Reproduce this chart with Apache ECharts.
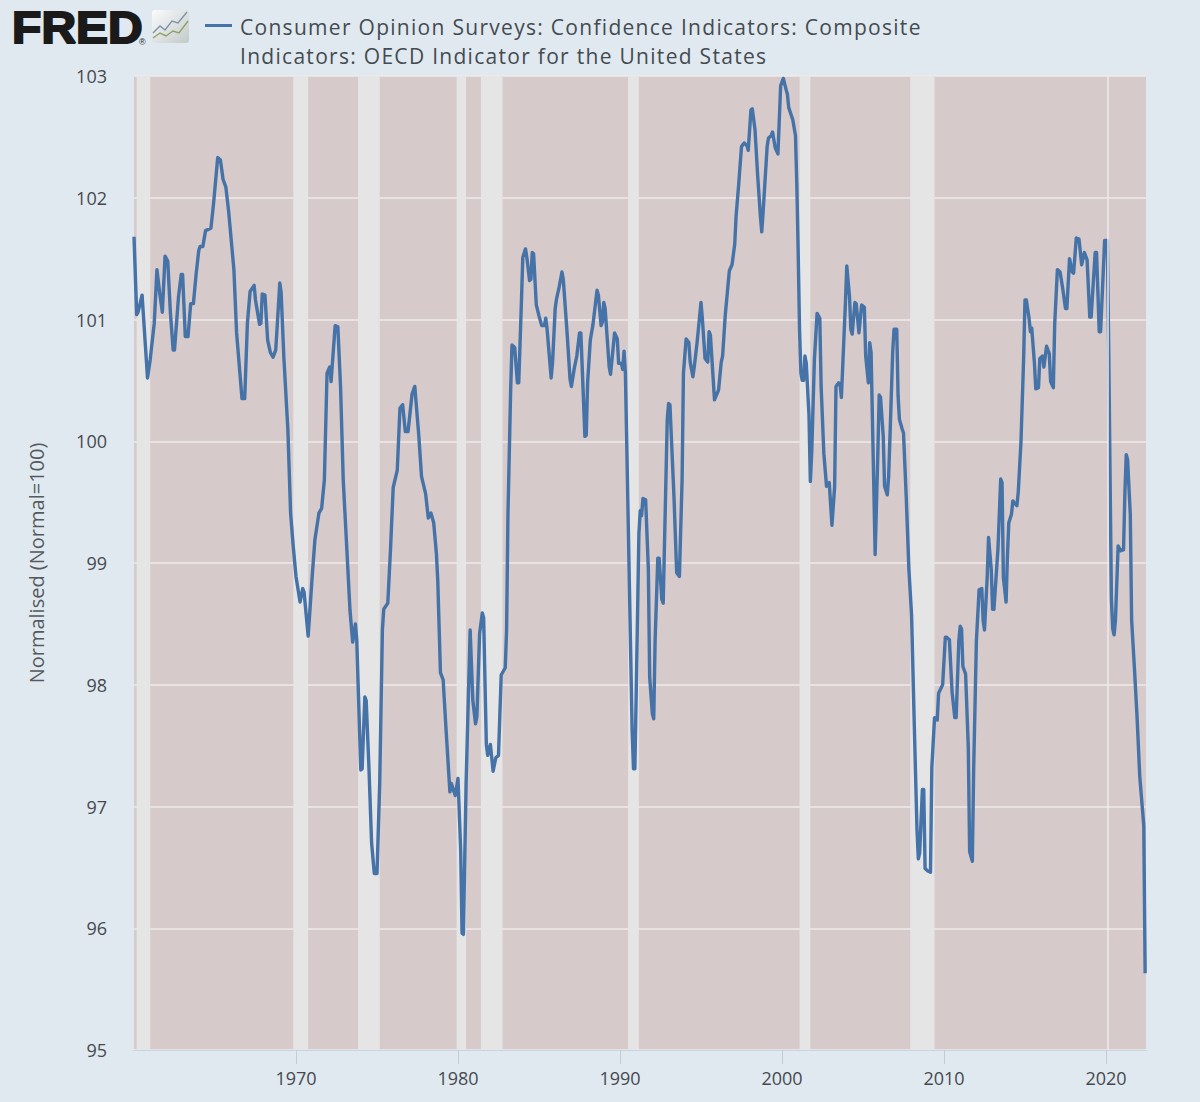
<!DOCTYPE html>
<html>
<head>
<meta charset="utf-8">
<title>FRED</title>
<script src="https://cdn.jsdelivr.net/npm/echarts@6/dist/echarts.min.js"></script>
<style>
html,body{margin:0;padding:0;background:#e1e9f0;}
#main{width:1200px;height:1102px;}
/* the legend is the only 21px text, FRED spaces its letters out */
text[style*="21px"]{letter-spacing:1.29px;}
</style>
</head>
<body>
<div id="main"></div>
<script>
// values at the turning points of the line
var months = [
'1960-01','1960-03','1960-04','1960-07','1960-11','1961-01','1961-04','1961-06','1961-08','1961-10',
'1961-12','1962-02','1962-04','1962-06','1962-07','1962-10','1962-12','1963-01','1963-03','1963-05',
'1963-07','1963-09','1963-11','1964-01','1964-02','1964-04','1964-06','1964-10','1964-12','1965-03',
'1965-05','1965-07','1965-09','1965-11','1966-03','1966-05','1966-09','1966-11','1967-01','1967-03',
'1967-06','1967-07','1967-10','1967-11','1967-12','1968-02','1968-04','1968-06','1968-08','1968-10',
'1969-01','1969-02','1969-04','1969-07','1969-09','1969-11','1970-01','1970-04','1970-06','1970-07',
'1970-10','1970-11','1971-01','1971-03','1971-06','1971-08','1971-10','1971-12','1972-02','1972-03',
'1972-06','1972-08','1972-10','1972-12','1973-03','1973-05','1973-07','1973-09','1973-10','1973-11',
'1974-01','1974-02','1974-04','1974-05','1974-07','1974-09','1974-11','1975-01','1975-03','1975-05',
'1975-06','1975-09','1975-10','1975-11','1976-01','1976-04','1976-06','1976-08','1976-10','1976-12',
'1977-03','1977-05','1977-08','1977-10','1978-01','1978-03','1978-05','1978-07','1978-09','1978-10',
'1978-12','1979-02','1979-04','1979-07','1979-08','1979-11','1980-01','1980-03','1980-04','1980-05',
'1980-07','1980-10','1980-12','1981-02','1981-03','1981-05','1981-07','1981-08','1981-10','1981-11',
'1982-01','1982-03','1982-05','1982-07','1982-09','1982-12','1983-01','1983-02','1983-04','1983-05',
'1983-07','1983-09','1983-10','1983-12','1984-01','1984-03','1984-04','1984-06','1984-07','1984-08',
'1984-09','1984-11','1985-01','1985-03','1985-05','1985-06','1985-07','1985-10','1985-11','1986-01',
'1986-02','1986-04','1986-06','1986-07','1986-10','1986-12','1987-01','1987-03','1987-05','1987-07',
'1987-08','1987-10','1987-11','1987-12','1988-01','1988-03','1988-05','1988-08','1988-09','1988-11',
'1988-12','1989-01','1989-02','1989-05','1989-06','1989-09','1989-11','1989-12','1990-02','1990-03',
'1990-04','1990-05','1990-06','1990-08','1990-10','1990-11','1990-12','1991-01','1991-03','1991-04',
'1991-05','1991-06','1991-08','1991-10','1991-11','1992-01','1992-02','1992-03','1992-05','1992-06',
'1992-08','1992-09','1992-12','1993-01','1993-02','1993-05','1993-07','1993-09','1993-11','1993-12',
'1994-02','1994-04','1994-05','1994-07','1994-08','1994-10','1995-01','1995-02','1995-04','1995-06',
'1995-07','1995-08','1995-11','1996-02','1996-04','1996-05','1996-07','1996-10','1996-12','1997-02',
'1997-03','1997-05','1997-07','1997-09','1997-11','1997-12','1998-02','1998-03','1998-05','1998-07',
'1998-09','1998-10','1998-11','1999-02','1999-03','1999-05','1999-06','1999-08','1999-10','1999-12',
'2000-02','2000-04','2000-05','2000-06','2000-09','2000-11','2000-12','2001-01','2001-02','2001-03',
'2001-04','2001-05','2001-06','2001-07','2001-09','2001-10','2001-11','2002-01','2002-03','2002-05',
'2002-06','2002-08','2002-10','2002-12','2003-02','2003-04','2003-05','2003-07','2003-08','2003-09',
'2003-12','2004-01','2004-03','2004-04','2004-05','2004-07','2004-08','2004-10','2004-12','2005-02',
'2005-03','2005-05','2005-06','2005-07','2005-09','2005-10','2005-12','2006-01','2006-02','2006-04',
'2006-05','2006-07','2006-08','2006-09','2006-11','2006-12','2007-02','2007-03','2007-04','2007-06',
'2007-07','2007-09','2007-11','2008-01','2008-03','2008-05','2008-06','2008-07','2008-09','2008-10',
'2008-11','2009-01','2009-03','2009-04','2009-06','2009-08','2009-09','2009-12','2010-02','2010-03',
'2010-05','2010-07','2010-09','2010-10','2010-12','2011-01','2011-02','2011-03','2011-05','2011-07',
'2011-08','2011-10','2011-11','2012-01','2012-03','2012-05','2012-06','2012-07','2012-09','2012-10',
'2012-12','2013-01','2013-02','2013-05','2013-07','2013-08','2013-09','2013-11','2013-12','2014-01',
'2014-03','2014-04','2014-07','2014-08','2014-10','2014-12','2015-01','2015-02','2015-04','2015-05',
'2015-06','2015-08','2015-09','2015-11','2015-12','2016-02','2016-03','2016-05','2016-07','2016-08',
'2016-10','2016-11','2017-01','2017-03','2017-05','2017-07','2017-08','2017-10','2017-12','2018-01',
'2018-03','2018-05','2018-07','2018-09','2018-11','2019-01','2019-02','2019-05','2019-06','2019-08',
'2019-09','2019-12','2020-02','2020-03','2020-04','2020-05','2020-06','2020-07','2020-08','2020-10',
'2020-12','2021-02','2021-03','2021-04','2021-05','2021-07','2021-08','2021-10','2021-12','2022-02',
'2022-05','2022-06'
];
var values = [
101.68,101.04,101.06,101.20,100.52,100.67,100.97,101.41,101.22,101.06,
101.52,101.48,101.05,100.75,100.75,101.19,101.37,101.37,100.86,100.86,
101.13,101.13,101.37,101.57,101.60,101.60,101.73,101.75,101.96,102.33,
102.31,102.15,102.09,101.90,101.41,100.89,100.35,100.35,100.97,101.23,
101.28,101.16,100.96,100.97,101.21,101.20,100.83,100.73,100.69,100.75,
101.30,101.22,100.69,100.09,99.41,99.13,98.89,98.68,98.79,98.76,
98.40,98.56,98.89,99.19,99.41,99.45,99.68,100.56,100.61,100.49,
100.95,100.94,100.45,99.68,99.04,98.61,98.35,98.50,98.37,98.01,
97.30,97.31,97.90,97.87,97.33,96.70,96.45,96.45,97.19,98.45,
98.62,98.67,98.89,99.11,99.62,99.76,100.27,100.30,100.08,100.08,
100.39,100.45,100.04,99.71,99.57,99.37,99.41,99.33,99.08,98.86,
98.10,98.04,97.66,97.12,97.19,97.09,97.23,96.64,95.96,95.95,
97.19,98.45,97.87,97.68,97.74,98.42,98.59,98.55,97.51,97.42,
97.51,97.29,97.40,97.42,98.08,98.14,98.45,99.39,100.42,100.79,
100.77,100.48,100.48,101.15,101.51,101.58,101.51,101.32,101.33,101.55,
101.54,101.12,101.03,100.95,100.95,101.01,100.92,100.52,100.64,101.09,
101.17,101.27,101.39,101.33,100.86,100.51,100.45,100.59,100.70,100.89,
100.89,100.33,100.04,100.05,100.48,100.83,100.96,101.24,101.20,100.95,
100.98,101.14,101.09,100.61,100.55,100.89,100.84,100.64,100.64,100.59,
100.74,100.56,99.98,98.80,97.62,97.31,97.31,97.92,99.24,99.43,
99.39,99.53,99.52,98.95,98.06,97.76,97.72,98.36,99.04,99.04,
98.70,98.67,100.18,100.31,100.30,99.54,98.92,98.89,99.68,100.56,
100.84,100.81,100.65,100.53,100.61,100.80,101.14,101.01,100.68,100.65,
100.90,100.87,100.34,100.42,100.65,100.70,101.04,101.40,101.45,101.62,
101.85,102.12,102.42,102.45,102.43,102.39,102.72,102.73,102.56,102.18,
101.85,101.72,101.88,102.42,102.49,102.51,102.54,102.41,102.36,102.92,
102.98,102.89,102.85,102.74,102.64,102.51,102.10,101.55,100.92,100.56,
100.50,100.50,100.70,100.64,100.21,99.67,99.90,100.67,101.05,101.01,
100.45,99.90,99.63,99.66,99.31,99.63,100.45,100.48,100.47,100.36,
101.14,101.44,101.19,100.92,100.88,101.14,101.13,100.89,101.12,101.10,
100.70,100.48,100.81,100.73,99.63,99.07,99.90,100.38,100.36,100.04,
99.63,99.56,99.71,100.04,100.73,100.92,100.92,100.37,100.18,100.10,
100.07,99.55,98.95,98.57,97.67,96.81,96.57,96.62,97.14,97.14,
96.49,96.47,96.46,97.32,97.73,97.71,97.93,98.00,98.39,98.39,
98.37,97.94,97.73,97.73,98.36,98.48,98.46,98.15,98.09,97.49,
96.63,96.55,97.32,98.36,98.78,98.79,98.53,98.45,98.88,99.21,
98.95,98.62,98.62,99.12,99.69,99.66,98.88,98.68,99.06,99.33,
99.40,99.51,99.47,99.58,99.99,100.68,101.16,101.16,101.01,100.90,
100.93,100.64,100.43,100.44,100.68,100.70,100.61,100.78,100.72,100.49,
100.44,100.96,101.41,101.39,101.25,101.09,101.09,101.50,101.39,101.38,
101.67,101.66,101.45,101.55,101.49,101.02,101.02,101.55,101.55,100.90,
100.90,101.65,101.65,100.78,99.74,98.71,98.46,98.41,98.53,99.14,
99.10,99.11,99.57,99.89,99.85,99.40,98.53,98.15,97.74,97.25,
96.84,95.63
];
var recessionStarts = ['1960-03','1969-11','1973-11','1979-12','1981-06','1990-07','2001-02','2007-12'];
var recessionEnds = ['1961-01','1970-10','1975-03','1980-07','1982-10','1991-03','2001-10','2009-06'];
var decadeTicks = [1970,1980,1990,2000,2010,2020];
var seriesName = 'Consumer Opinion Surveys: Confidence Indicators: Composite\nIndicators: OECD Indicator for the United States';
var yTitle = 'Normalised (Normal=100)';

var textFont = '"Open Sans", sans-serif';
var chart = echarts.init(document.getElementById('main'), null, {renderer: 'svg'});

// 'YYYY-MM' to a decimal year for the x scale
function toYear(s) {
	var p = s.split('-');
	return +p[0] + (p[1] - 1) / 12;
}

var points = [];
for (var i = 0; i < months.length; i++) {
	points.push([toYear(months[i]), values[i]]);
}
var bands = [];
for (var j = 0; j < recessionStarts.length; j++) {
	bands.push([{xAxis: toYear(recessionStarts[j])}, {xAxis: toYear(recessionEnds[j])}]);
}

var option = {
	animation: false,
	backgroundColor: '#e1e9f0',
	textStyle: {fontFamily: textFont},
	grid: {
		show: true,
		left: 134,
		top: 76,
		width: 1012,
		height: 974,
		backgroundColor: '#d6caca',
		borderWidth: 0
	},
	legend: {
		left: 205,
		top: 12,
		padding: 0,
		itemWidth: 30,
		itemHeight: 58,
		icon: 'path://M0,12H27V15H0Z M0,0H0Z M30,58H30Z',
		itemStyle: {color: '#4572a7'},
		textStyle: {
			color: '#444b50',
			fontSize: 21,
			lineHeight: 29,
			fontFamily: textFont
		},
		data: [seriesName]
	},
	xAxis: {
		type: 'value',
		min: 1960,
		max: 2022.47,
		splitLine: {show: false},
		axisLine: {lineStyle: {color: '#c8d4e0', width: 1}},
		axisTick: {length: 14, customValues: decadeTicks, lineStyle: {color: '#c0ccd8'}},
		axisLabel: {
			customValues: decadeTicks,
			margin: 19,
			fontSize: 18,
			color: '#45494e',
			fontFamily: textFont,
			formatter: function(v) {
				return String(v);
			}
		}
	},
	yAxis: {
		type: 'value',
		min: 95,
		max: 103,
		interval: 1,
		name: yTitle,
		nameLocation: 'middle',
		nameGap: 88,
		nameTextStyle: {fontSize: 20, color: '#54595e', fontFamily: textFont},
		axisLine: {show: false},
		axisTick: {show: false},
		axisLabel: {margin: 27, fontSize: 18, color: '#45494e', fontFamily: textFont},
		splitLine: {lineStyle: {color: '#efeaea', width: 1.5}}
	},
	series: [{
		name: seriesName,
		type: 'line',
		data: points,
		showSymbol: false,
		symbol: 'none',
		lineStyle: {color: '#4572a7', width: 3.4, join: 'round'},
		itemStyle: {color: '#4572a7'},
		markArea: {
			silent: true,
			itemStyle: {color: '#e6e5e6', opacity: 1},
			data: bands
		},
		markLine: {
			silent: true,
			symbol: 'none',
			label: {show: false},
			lineStyle: {color: '#efeaea', width: 1.5, type: 'solid'},
			data: [{xAxis: 2020.1}]
		}
	}],
	graphic: [
		{
			type: 'text', left: 11, top: 5, scaleX: 1.09,
			style: {text: 'FRED', font: '900 44px "Liberation Sans"', fill: '#1a1a1a', stroke: '#1a1a1a', lineWidth: 2}
		},
		{
			type: 'text', left: 139, top: 37,
			style: {text: '®', font: '9px "Liberation Sans"', fill: '#1a1a1a'}
		},
		{
			type: 'rect',
			shape: {x: 152, y: 10, width: 37, height: 33, r: 3},
			style: {fill: new echarts.graphic.LinearGradient(0, 0, 1, 1, [
				{offset: 0, color: '#fbfcfc'},
				{offset: 1, color: '#c2c9c9'}
			])}
		},
		{
			type: 'polyline',
			shape: {points: [[153, 33], [160, 26], [165, 30], [172, 21], [178, 23], [187, 12]]},
			style: {stroke: '#7f93ab', lineWidth: 1.4, fill: null}
		},
		{
			type: 'polyline',
			shape: {points: [[153, 38], [160, 33], [166, 36], [173, 31], [179, 33], [188, 21]]},
			style: {stroke: '#8fa065', lineWidth: 1.4, fill: null}
		}
	]
};
chart.setOption(option);
</script>
</body>
</html>
